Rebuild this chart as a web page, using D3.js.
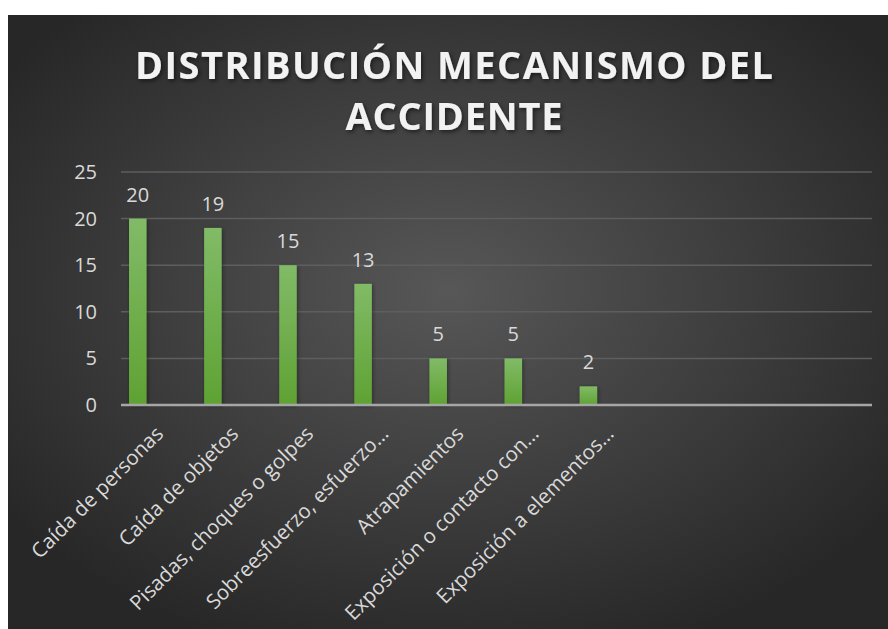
<!DOCTYPE html>
<html>
<head>
<meta charset="utf-8">
<script src="https://cdn.jsdelivr.net/npm/d3@7"></script>
<style>
  body { margin: 0; background: #ffffff; }
  text { font-family: "Open Sans", sans-serif; }
</style>
</head>
<body>
<div id="chart"></div>
<script>
var svgWidth = 888;
var svgHeight = 629;

// data (last three slots are empty categories)
var categories = [
  "Caída de personas",
  "Caída de objetos",
  "Pisadas, choques o golpes",
  "Sobreesfuerzo, esfuerzo…",
  "Atrapamientos",
  "Exposición o contacto con…",
  "Exposición a elementos…",
  "", "", ""
];
var values = [20, 19, 15, 13, 5, 5, 2, null, null, null];
var yTicks = [0, 5, 10, 15, 20, 25];
var titleLines = ["DISTRIBUCIÓN MECANISMO DEL", "ACCIDENTE"];

var data = categories.map(function(c, i) {
  return { id: i, label: c, value: values[i] };
});

var margin = { top: 172, right: 16, bottom: 224, left: 121 };
var width = svgWidth - margin.left - margin.right;
var height = svgHeight - margin.top - margin.bottom;

var svg = d3.select("#chart")
  .append("svg")
  .attr("width", svgWidth)
  .attr("height", svgHeight);

var defs = svg.append("defs");

// background gradient
var bg = defs.append("radialGradient")
  .attr("id", "bgGrad")
  .attr("cx", "0.5").attr("cy", "0.45").attr("r", "0.62");
bg.append("stop").attr("offset", "0%").attr("stop-color", "#575757");
bg.append("stop").attr("offset", "100%").attr("stop-color", "#272727");

// bar gradient
var barGrad = defs.append("linearGradient")
  .attr("id", "barGrad")
  .attr("x1", 0).attr("y1", 0).attr("x2", 0).attr("y2", 1);
barGrad.append("stop").attr("offset", "0%").attr("stop-color", "#81bb67");
barGrad.append("stop").attr("offset", "100%").attr("stop-color", "#5fa233");

var shadow = defs.append("filter").attr("id", "shadow")
  .attr("x", "-20%").attr("y", "-20%").attr("width", "140%").attr("height", "140%");
shadow.append("feDropShadow")
  .attr("dx", 1.5).attr("dy", 2).attr("stdDeviation", 2)
  .attr("flood-color", "#000").attr("flood-opacity", 0.55);

var barShadow = defs.append("filter").attr("id", "barShadow")
  .attr("x", "-50%").attr("y", "-10%").attr("width", "200%").attr("height", "120%");
barShadow.append("feDropShadow")
  .attr("dx", 1).attr("dy", 1).attr("stdDeviation", 2)
  .attr("flood-color", "#000").attr("flood-opacity", 0.4);

svg.append("rect")
  .attr("x", 8).attr("y", 15)
  .attr("width", svgWidth - 8).attr("height", svgHeight - 15)
  .attr("fill", "url(#bgGrad)");

// title, widths stretched to match the original
var titleWidths = [638, 217];
var titleGroup = svg.append("g")
  .attr("filter", "url(#shadow)");
titleGroup.selectAll("text")
  .data(titleLines)
  .enter()
  .append("text")
  .attr("x", 454)
  .attr("y", function(d, i) { return 79 + i * 51; })
  .attr("text-anchor", "middle")
  .attr("font-size", "38px")
  .attr("font-weight", "bold")
  .attr("textLength", function(d, i) { return titleWidths[i]; })
  .attr("lengthAdjust", "spacing")
  .attr("fill", "#f2f2f2")
  .text(function(d) { return d; });

var chartGroup = svg.append("g")
  .attr("transform", `translate(${margin.left}, ${margin.top})`);

var xScale = d3.scaleBand()
  .domain(data.map(d => d.id))
  .range([0, width])
  .padding(0);

var yScale = d3.scaleLinear()
  .domain([0, 25])
  .range([height, 0]);

// gridlines
chartGroup.selectAll(".grid")
  .data(yTicks.filter(t => t > 0))
  .enter()
  .append("line")
  .attr("x1", 0).attr("x2", width)
  .attr("y1", d => yScale(d)).attr("y2", d => yScale(d))
  .attr("stroke", "#5e5e5e")
  .attr("stroke-width", 1.5);

// y axis labels
var leftAxis = d3.axisLeft(yScale).tickValues(yTicks).tickSize(0).tickPadding(24);
var yAxis = chartGroup.append("g").call(leftAxis);
yAxis.select(".domain").remove();
yAxis.selectAll("text")
  .attr("font-family", "'Open Sans', sans-serif")
  .attr("font-size", "20px")
  .attr("fill", "#d9d9d9");

// bars
var step = xScale.step();
chartGroup.selectAll(".bar")
  .data(data.filter(d => d.value != null))
  .enter()
  .append("rect")
  .attr("class", "bar")
  .attr("x", d => xScale(d.id) + step * 0.107)
  .attr("width", step * 0.233)
  .attr("y", d => yScale(d.value))
  .attr("height", d => height - yScale(d.value))
  .attr("fill", "url(#barGrad)")
  .attr("filter", "url(#barShadow)");

// value labels
chartGroup.selectAll(".valueLabel")
  .data(data.filter(d => d.value != null))
  .enter()
  .append("text")
  .attr("x", d => xScale(d.id) + step * 0.2235)
  .attr("y", d => yScale(d.value) - 17)
  .attr("text-anchor", "middle")
  .attr("font-size", "20px")
  .attr("fill", "#d9d9d9")
  .text(d => d.value);

// x axis line
chartGroup.append("line")
  .attr("x1", 0).attr("x2", width)
  .attr("y1", height).attr("y2", height)
  .attr("stroke", "#a6a6a6")
  .attr("stroke-width", 2.5);

// category labels
chartGroup.selectAll(".catLabel")
  .data(data.filter(d => d.label !== ""))
  .enter()
  .append("text")
  .attr("transform", d => `translate(${xScale(d.id) + step / 2 + 6}, ${height + 30}) rotate(-45)`)
  .attr("text-anchor", "end")
  .attr("font-size", "20.5px")
  .attr("fill", "#d9d9d9")
  .text(d => d.label);
</script>
</body>
</html>
